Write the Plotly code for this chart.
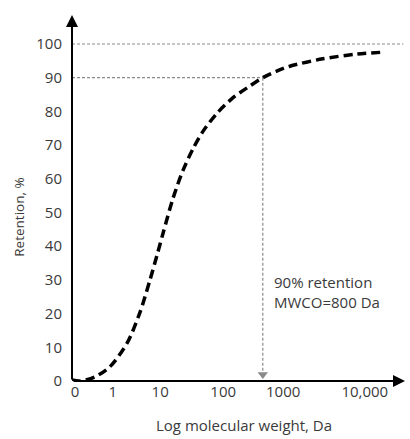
import plotly.graph_objects as go

# Retention curve: x is position along the log molecular-weight axis (decades), y is retention in %
log_mw = [0.0, 0.13, 0.38, 0.63, 0.92, 1.13, 1.30, 1.42, 1.52, 1.68, 1.85, 2.02,
          2.18, 2.42, 2.68, 2.97, 3.18, 3.42, 3.63, 4.18, 4.75, 5.22]
retention = [0.3, 0.0, 1.2, 4.2, 11.3, 20.2, 30.0, 37.5, 44.0, 54.0, 62.5, 69.0,
             74.0, 79.5, 84.0, 87.6, 90.0, 92.0, 93.4, 95.6, 97.0, 97.6]

# Axis ticks
x_tick_pos = [0.05, 0.68, 1.47, 2.52, 3.52, 4.88]
x_tick_text = ["0", "1", "10", "100", "1000", "10,000"]
y_ticks = [0, 10, 20, 30, 40, 50, 60, 70, 80, 90, 100]

# Cut-off marker
mwco_x = 3.18
mwco_retention = 90
full_retention = 100
mwco_label = "90% retention<br>MWCO=800 Da"

x_max = 5.55
y_max = 108.6
font_family = "Open Sans, Lato, sans-serif"
text_color = "#3a3a3a"
guide_color = "#8a8a8a"

fig = go.Figure()

fig.add_trace(go.Scatter(
    x=log_mw, y=retention, mode="lines",
    line=dict(color="black", width=3.5, dash="9px,5px", shape="spline", smoothing=0.8),
    hoverinfo="skip", showlegend=False,
))

# Arrow tip of the cut-off guide
fig.add_trace(go.Scatter(
    x=[mwco_x], y=[1.9], mode="markers",
    marker=dict(symbol="triangle-down", size=9, color=guide_color),
    hoverinfo="skip", showlegend=False,
))

shapes = [
    dict(type="line", xref="x", yref="y", x0=0, x1=x_max * 0.995, y0=full_retention, y1=full_retention,
         line=dict(color=guide_color, width=1.2, dash="3px,2px")),
    dict(type="line", xref="x", yref="y", x0=0, x1=mwco_x, y0=mwco_retention, y1=mwco_retention,
         line=dict(color=guide_color, width=1.2, dash="3px,2px")),
    dict(type="line", xref="x", yref="y", x0=mwco_x, x1=mwco_x, y0=mwco_retention, y1=3,
         line=dict(color=guide_color, width=1.2, dash="3px,2px")),
]

annotations = [
    # y axis with arrow
    dict(x=0, y=y_max, ax=0, ay=0, xref="x", yref="y", axref="x", ayref="y",
         showarrow=True, arrowhead=2, arrowsize=1.2, arrowwidth=2, arrowcolor="black", text=""),
    # x axis with arrow
    dict(x=x_max, y=0, ax=0, ay=0, xref="x", yref="y", axref="x", ayref="y",
         showarrow=True, arrowhead=2, arrowsize=1.2, arrowwidth=2, arrowcolor="black", text=""),
    dict(x=mwco_x + 0.15, y=33, xref="x", yref="y", text=mwco_label, showarrow=False,
         xanchor="left", yanchor="top", align="left",
         font=dict(family=font_family, size=15, color=text_color)),
    dict(x=0.517, y=-0.12, xref="paper", yref="paper", text="Log molecular weight, Da",
         showarrow=False, xanchor="center", yanchor="middle",
         font=dict(family=font_family, size=15, color=text_color)),
    dict(x=-0.16, y=0.448, xref="paper", yref="paper", text="Retention, %", textangle=-90,
         showarrow=False, xanchor="center", yanchor="middle",
         font=dict(family=font_family, size=13.5, color=text_color)),
]

fig.update_layout(
    width=410, height=439,
    margin=dict(l=72, r=5, t=15, b=58),
    paper_bgcolor="white", plot_bgcolor="white",
    shapes=shapes, annotations=annotations,
    xaxis=dict(range=[0, x_max], tickmode="array", tickvals=x_tick_pos, ticktext=x_tick_text,
               showgrid=False, zeroline=False, showline=False, ticks="",
               tickfont=dict(family=font_family, size=15, color=text_color)),
    yaxis=dict(range=[0, y_max], tickmode="array", tickvals=y_ticks,
               showgrid=False, zeroline=False, showline=False, ticks="outside", ticklen=6,
               tickcolor="white", tickfont=dict(family=font_family, size=15, color=text_color)),
)

fig.write_html("out.html")
